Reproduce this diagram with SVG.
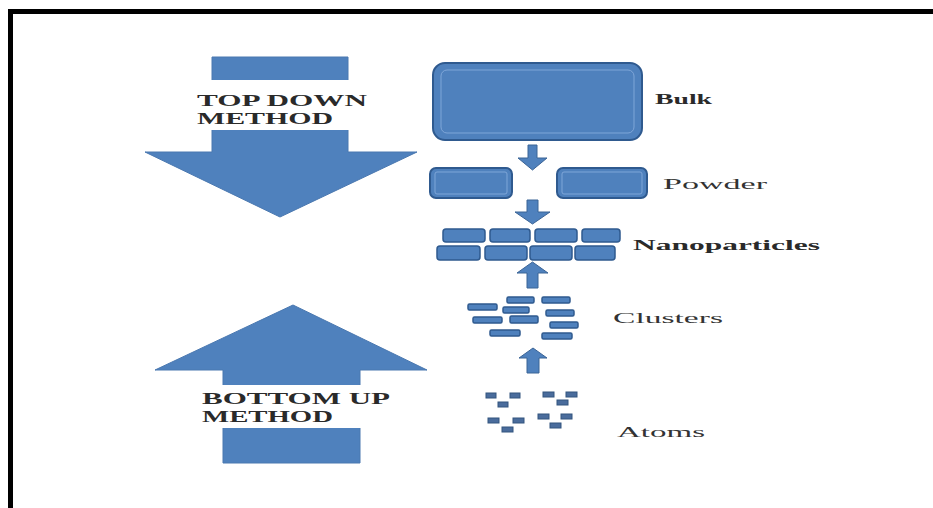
<svg xmlns="http://www.w3.org/2000/svg" width="933" height="508" viewBox="0 0 933 508">
  <defs>
    <style>
      .big { fill: #4f81bd; stroke: #4a78b0; stroke-width: 1; }
      .box { fill: #4f81bd; stroke: #2f5a8f; stroke-width: 2; }
      .inner { fill: none; stroke: #7fa6d8; stroke-width: 1; }
      .sm { fill: #4f81bd; stroke: #2f5a8f; stroke-width: 1.5; }
      .atom { fill: #4a6c9c; stroke: #33557f; stroke-width: 1; }
      .conn { fill: #4f81bd; stroke: #3b6496; stroke-width: 1; }
      .mlab { font-family: "Liberation Serif", "Times New Roman", serif; font-weight: bold; font-size: 16px; fill: #2a2a2a; }
      .lab { font-family: "Liberation Serif", "Times New Roman", serif; font-size: 15px; fill: #333; }
      .labb { font-family: "Liberation Serif", "Times New Roman", serif; font-weight: bold; font-size: 15px; fill: #2a2a2a; }
    </style>
  </defs>
  <rect width="933" height="508" fill="#ffffff"/>
  <!-- frame -->
  <path d="M10.5,508 V11.5 H933" fill="none" stroke="#000" stroke-width="5"/>

  <g id="top-down-arrow">
    <path class="big" d="M212,57 H348 V152 H417 L280,217 L145,152 H212 Z"/>
    <rect x="195" y="80" width="175" height="50" fill="#ffffff"/>
    <text class="mlab" x="197" y="106" textLength="170" lengthAdjust="spacingAndGlyphs">TOP DOWN</text>
    <text class="mlab" x="197" y="124" textLength="136" lengthAdjust="spacingAndGlyphs">METHOD</text>
  </g>

  <g id="bottom-up-arrow">
    <path class="big" d="M293,305 L427,370 H360 V463 H223 V370 H155 Z"/>
    <rect x="198" y="385" width="200" height="43" fill="#ffffff"/>
    <text class="mlab" x="202" y="404" textLength="188" lengthAdjust="spacingAndGlyphs">BOTTOM UP</text>
    <text class="mlab" x="202" y="422" textLength="131" lengthAdjust="spacingAndGlyphs">METHOD</text>
  </g>

  <g id="bulk">
    <rect class="box" x="433" y="63" width="209" height="77" rx="12"/>
    <rect class="inner" x="441" y="70" width="193" height="63" rx="6"/>
    <text class="labb" x="655" y="104" textLength="57" lengthAdjust="spacingAndGlyphs">Bulk</text>
  </g>

  <g id="powder">
    <rect class="box" x="430" y="168" width="82" height="30" rx="6"/>
    <rect class="inner" x="435" y="172" width="72" height="22" rx="2"/>
    <rect class="box" x="557" y="168" width="90" height="30" rx="6"/>
    <rect class="inner" x="562" y="172" width="80" height="22" rx="2"/>
    <text class="lab" x="663" y="189" textLength="104" lengthAdjust="spacingAndGlyphs">Powder</text>
  </g>

  <g id="nanoparticles">
    <rect class="sm" x="443" y="229" width="42" height="13" rx="3"/>
    <rect class="sm" x="490" y="229" width="40" height="13" rx="3"/>
    <rect class="sm" x="535" y="229" width="42" height="13" rx="3"/>
    <rect class="sm" x="582" y="229" width="38" height="13" rx="3"/>
    <rect class="sm" x="437" y="246" width="43" height="14" rx="3"/>
    <rect class="sm" x="485" y="246" width="42" height="14" rx="3"/>
    <rect class="sm" x="530" y="246" width="42" height="14" rx="3"/>
    <rect class="sm" x="575" y="246" width="40" height="14" rx="3"/>
    <text class="labb" x="633" y="250" textLength="187" lengthAdjust="spacingAndGlyphs">Nanoparticles</text>
  </g>

  <g id="clusters">
    <rect class="sm" x="507" y="297" width="27" height="6" rx="1.5"/>
    <rect class="sm" x="542" y="297" width="28" height="6" rx="1.5"/>
    <rect class="sm" x="468" y="304" width="29" height="6" rx="1.5"/>
    <rect class="sm" x="503" y="307" width="26" height="6" rx="1.5"/>
    <rect class="sm" x="546" y="310" width="28" height="6" rx="1.5"/>
    <rect class="sm" x="473" y="317" width="29" height="6" rx="1.5"/>
    <rect class="sm" x="510" y="316" width="28" height="7" rx="1.5"/>
    <rect class="sm" x="550" y="322" width="28" height="6" rx="1.5"/>
    <rect class="sm" x="490" y="330" width="30" height="6" rx="1.5"/>
    <rect class="sm" x="542" y="333" width="30" height="6" rx="1.5"/>
    <text class="lab" x="613" y="323" textLength="110" lengthAdjust="spacingAndGlyphs">Clusters</text>
  </g>

  <g id="atoms">
    <rect class="atom" x="486" y="393" width="10" height="5"/>
    <rect class="atom" x="510" y="393" width="10" height="5"/>
    <rect class="atom" x="498" y="402" width="10" height="5"/>
    <rect class="atom" x="543" y="392" width="11" height="5"/>
    <rect class="atom" x="566" y="392" width="11" height="5"/>
    <rect class="atom" x="557" y="400" width="11" height="5"/>
    <rect class="atom" x="488" y="418" width="11" height="5"/>
    <rect class="atom" x="513" y="418" width="11" height="5"/>
    <rect class="atom" x="502" y="427" width="11" height="5"/>
    <rect class="atom" x="538" y="414" width="11" height="5"/>
    <rect class="atom" x="561" y="414" width="11" height="5"/>
    <rect class="atom" x="550" y="423" width="11" height="5"/>
    <text class="lab" x="617" y="437" textLength="88" lengthAdjust="spacingAndGlyphs">Atoms</text>
  </g>

  <g id="connectors">
    <path class="conn" d="M528,145 H537 V158 H547 L532.5,170 L518,158 H528 Z"/>
    <path class="conn" d="M527,200 H538 V212 H550 L532.5,224 L515,212 H527 Z"/>
    <path class="conn" d="M532.5,262 L548,273 H538 V288 H527 V273 H517 Z"/>
    <path class="conn" d="M533,348 L547,358 H539 V373 H527 V358 H519 Z"/>
  </g>
</svg>
